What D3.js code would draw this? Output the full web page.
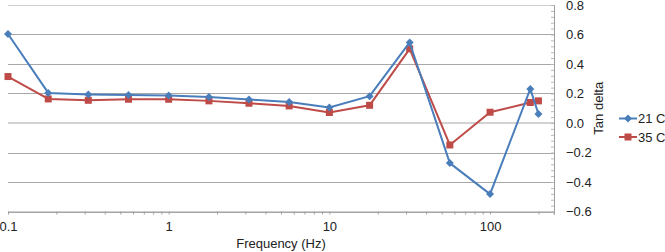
<!DOCTYPE html>
<html>
<head>
<meta charset="utf-8">
<script src="https://cdn.jsdelivr.net/npm/d3@7"></script>
<style>
  body { margin: 0; background: #fff; }
  svg { display: block; font-family: "Liberation Sans", Arial, sans-serif; }
</style>
</head>
<body>
<svg id="chart" width="665" height="252"></svg>
<script>
// frequencies (Hz) and tan delta readings
const freq = [0.1, 0.178, 0.316, 0.562, 1, 1.78, 3.16, 5.62, 10, 17.8, 31.6, 56.2, 100, 178, 200];
const tan21 = [0.603, 0.204, 0.194, 0.189, 0.186, 0.177, 0.159, 0.143, 0.105, 0.182, 0.546, -0.272, -0.482, 0.231, 0.061];
const tan35 = [0.315, 0.163, 0.154, 0.161, 0.161, 0.150, 0.134, 0.116, 0.071, 0.120, 0.503, -0.149, 0.073, 0.139, 0.150];
const seriesNames = ["21 C", "35 C"];
const xTickLabels = [0.1, 1, 10, 100];
const yTickLabels = [-0.6, -0.4, -0.2, 0.0, 0.2, 0.4, 0.6, 0.8];

const svg = d3.select("#chart");
const plotL = 8, plotR = 554, plotT = 5, plotB = 211.5;
const blue = "#4a7ebb", red = "#be4b48";

const x = d3.scaleLog().domain([0.1, 250]).range([plotL, plotR]);
const y = d3.scaleLinear().domain([-0.6, 0.8]).range([plotB, plotT]);

// gridlines
yTickLabels.forEach(v => {
  const zero = Math.abs(v) < 1e-9;
  const edge = v === 0.8;
  const gy = Math.round(y(v)) + (zero ? 0 : 0.5);
  svg.append("line")
    .attr("x1", plotL).attr("x2", plotR)
    .attr("y1", gy).attr("y2", gy)
    .attr("stroke", zero ? "#d2d2d2" : edge ? "#cfcfcf" : "#a8a8a8")
    .attr("stroke-width", zero ? 2 : 1);
});

// x axis with minor ticks
const xMinor = [];
[0.1, 1, 10, 100].forEach(d => { for (let k = 1; k <= 9; k++) if (d * k <= 250) xMinor.push(d * k); });
const xAxis = svg.append("g")
  .attr("transform", `translate(0,${plotB})`)
  .call(d3.axisBottom(x).tickValues(xMinor).tickSize(3).tickPadding(7)
    .tickFormat(d => xTickLabels.some(t => Math.abs(t - d) < 1e-9) ? d3.format("~g")(d) : ""));
xAxis.select(".domain").attr("stroke", "#a0a0a0").attr("d", `M${plotL},0.5H${plotR}V3`);
xAxis.selectAll(".tick line").attr("stroke", "#a0a0a0");
xAxis.selectAll("text").attr("font-size", 13).attr("fill", "#222");

// right y axis: minor ticks every 0.04, labels on majors
const yMinor = d3.range(-0.6, 0.8001, 0.04);
const yMin = svg.append("g")
  .attr("transform", `translate(${plotR},0)`)
  .call(d3.axisRight(y).tickValues(yMinor).tickSize(-3).tickFormat(""));
yMin.select(".domain").attr("stroke", "#a0a0a0").attr("d", `M0.5,${plotT}V${plotB + 3}`);
yMin.selectAll(".tick line").attr("stroke", "#b8b8b8");

const yAxis = svg.append("g")
  .attr("transform", `translate(${plotR},0)`)
  .call(d3.axisRight(y).tickValues(yTickLabels).tickSize(0).tickPadding(12).tickFormat(d3.format(".1f")));
yAxis.select(".domain").remove();
yAxis.selectAll("text").attr("font-size", 13).attr("fill", "#222");

// axis titles
svg.append("text")
  .attr("x", (plotL + plotR) / 2).attr("y", 248)
  .attr("text-anchor", "middle").attr("font-size", 13).attr("fill", "#222")
  .text("Frequency (Hz)");
svg.append("text")
  .attr("transform", `translate(603,${(plotT + plotB) / 2}) rotate(-90)`)
  .attr("text-anchor", "middle").attr("font-size", 13).attr("fill", "#222")
  .text("Tan delta");

// series
const line = d3.line().x(d => x(d[0])).y(d => y(d[1]));
const diamond = "M0,-4L4,0L0,4L-4,0Z";
const square = "M-3.5,-3.5H3.5V3.5H-3.5Z";
const series = [
  { name: seriesNames[0], values: tan21, color: blue, marker: diamond },
  { name: seriesNames[1], values: tan35, color: red, marker: square }
];

series.slice().reverse().forEach(s => {
  const pts = freq.map((f, i) => [f, s.values[i]]);
  svg.append("path").datum(pts)
    .attr("d", line).attr("fill", "none")
    .attr("stroke", s.color).attr("stroke-width", 2).attr("stroke-linejoin", "round");
  svg.selectAll(null).data(pts).enter().append("path")
    .attr("transform", d => `translate(${x(d[0])},${y(d[1])})`)
    .attr("d", s.marker).attr("fill", s.color);
});

// legend
series.forEach((s, i) => {
  const ly = 118.5 + i * 18.5;
  svg.append("line").attr("x1", 619).attr("x2", 637).attr("y1", ly).attr("y2", ly)
    .attr("stroke", s.color).attr("stroke-width", 2);
  svg.append("path").attr("transform", `translate(628,${ly})`).attr("d", s.marker).attr("fill", s.color);
  svg.append("text").attr("x", 638).attr("y", ly + 4.5)
    .attr("font-size", 13).attr("fill", "#222").text(s.name);
});
</script>
</body>
</html>
